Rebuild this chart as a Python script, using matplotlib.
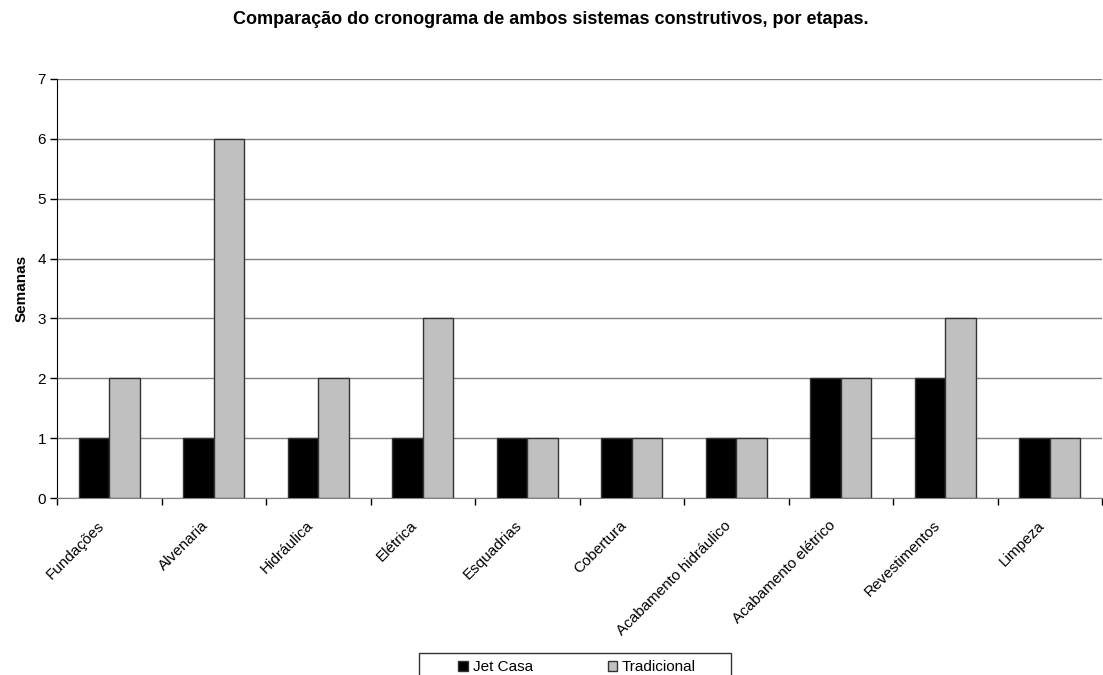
import matplotlib.pyplot as plt
import numpy as np
from matplotlib.patches import Rectangle

plt.rcParams['font.family'] = ['Liberation Sans', 'DejaVu Sans']

etapas = ['Fundações', 'Alvenaria', 'Hidráulica', 'Elétrica', 'Esquadrias',
          'Cobertura', 'Acabamento hidráulico', 'Acabamento elétrico',
          'Revestimentos', 'Limpeza']
jet_casa = [1, 1, 1, 1, 1, 1, 1, 2, 2, 1]
tradicional = [2, 6, 2, 3, 1, 1, 1, 2, 3, 1]


def main():
    W, H = 1103, 675
    fig = plt.figure(figsize=(W / 100, H / 100), dpi=100)
    ax = fig.add_axes([57 / W, 1 - 498 / H, 1045 / W, 419 / H])

    x = np.arange(len(etapas))
    w = 0.29
    ax.bar(x - w / 2, jet_casa, w, color='black', edgecolor='#333333',
           linewidth=1, label='Jet Casa', zorder=3)
    ax.bar(x + w / 2, tradicional, w, color='#c0c0c0', edgecolor='#333333',
           linewidth=1, label='Tradicional', zorder=3)

    ax.set_xlim(-0.5, len(etapas) - 0.5)
    ax.set_ylim(0, 7)
    ax.set_yticks(range(8))
    ax.yaxis.grid(True, color='#808080', linewidth=1)
    ax.set_axisbelow(True)

    # ticks sit between the categories, labels under each group
    ax.set_xticks(np.arange(len(etapas) + 1) - 0.5)
    ax.set_xticklabels([])
    ax.tick_params(axis='x', length=5, width=1, color='black')
    ax.tick_params(axis='y', length=5, width=1, labelsize=11, pad=3)
    for i, name in enumerate(etapas):
        ax.text(i - 0.12, -0.34, name, rotation=45, ha='right', va='top',
                rotation_mode='anchor', fontsize=11)

    for s in ['top', 'right']:
        ax.spines[s].set_visible(False)
    ax.spines['bottom'].set_color('#808080')
    ax.spines['left'].set_color('black')

    ax.set_ylabel('Semanas', fontsize=11, fontweight='bold', labelpad=6)
    fig.text(551 / W, 1 - 20 / H, 'Comparação do cronograma de ambos sistemas '
             'construtivos, por etapas.', ha='center', va='center',
             fontsize=13, fontweight='bold')

    # legend entries without frame, box drawn separately
    fig.legend(loc='center left', bbox_to_anchor=(458 / W, 1 - 667 / H),
               ncol=2, frameon=False, fontsize=11, borderpad=0,
               borderaxespad=0, handlelength=0.65, handleheight=0.65,
               columnspacing=4.9, handletextpad=0.3)
    fig.patches.append(Rectangle((419 / W, -0.05), 312 / W, 0.05 + (H - 653) / H,
                                 transform=fig.transFigure, fill=False,
                                 edgecolor='#333333', linewidth=1))

    fig.savefig('out.png', dpi=100)


if __name__ == '__main__':
    main()
